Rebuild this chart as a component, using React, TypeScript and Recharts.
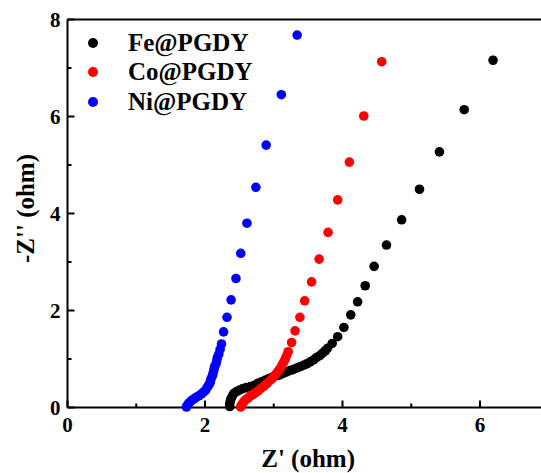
import { ScatterChart, Scatter, XAxis, YAxis, ReferenceLine, Legend } from 'recharts';

// Nyquist points: [Z', -Z'']
const feData = [
  [2.36, 0.02], [2.36, 0.08], [2.37, 0.14], [2.38, 0.19], [2.4, 0.24], [2.42, 0.29],
  [2.46, 0.33], [2.5, 0.36], [2.55, 0.39], [2.6, 0.41], [2.66, 0.43], [2.72, 0.46],
  [2.77, 0.5], [2.82, 0.53], [2.87, 0.56], [2.92, 0.59], [2.97, 0.62], [3.03, 0.65],
  [3.08, 0.67], [3.13, 0.7], [3.18, 0.73], [3.23, 0.76], [3.28, 0.78], [3.33, 0.81],
  [3.38, 0.84], [3.43, 0.87], [3.48, 0.9], [3.53, 0.94], [3.58, 0.98], [3.62, 1.03],
  [3.67, 1.07], [3.71, 1.12], [3.75, 1.17], [3.78, 1.22], [3.85, 1.32], [3.93, 1.46],
  [4.02, 1.65], [4.12, 1.91], [4.22, 2.18], [4.33, 2.51], [4.46, 2.91], [4.64, 3.35],
  [4.86, 3.87], [5.12, 4.5], [5.41, 5.27], [5.77, 6.14], [6.19, 7.16],
];
const coData = [
  [2.52, 0.01], [2.53, 0.05], [2.55, 0.09], [2.57, 0.13], [2.6, 0.17], [2.63, 0.2],
  [2.66, 0.24], [2.7, 0.27], [2.73, 0.3], [2.77, 0.34], [2.81, 0.39], [2.85, 0.43],
  [2.88, 0.47], [2.91, 0.51], [2.95, 0.56], [2.98, 0.6], [3.01, 0.65], [3.03, 0.69],
  [3.06, 0.74], [3.08, 0.78], [3.11, 0.84], [3.13, 0.9], [3.15, 0.95], [3.17, 1.01],
  [3.19, 1.08], [3.21, 1.15], [3.26, 1.34], [3.31, 1.58], [3.38, 1.86], [3.45, 2.2],
  [3.55, 2.59], [3.66, 3.06], [3.79, 3.61], [3.93, 4.28], [4.1, 5.06], [4.31, 6.01],
  [4.57, 7.13],
];
const niData = [
  [1.73, 0.01], [1.74, 0.04], [1.76, 0.08], [1.78, 0.11], [1.81, 0.15], [1.84, 0.18],
  [1.87, 0.21], [1.91, 0.24], [1.95, 0.28], [1.98, 0.32], [2.01, 0.36], [2.03, 0.41],
  [2.05, 0.45], [2.07, 0.5], [2.08, 0.55], [2.09, 0.6], [2.11, 0.66], [2.12, 0.72],
  [2.13, 0.78], [2.14, 0.84], [2.16, 0.9], [2.17, 0.96], [2.18, 1.03], [2.2, 1.1],
  [2.22, 1.2], [2.24, 1.31], [2.27, 1.56], [2.32, 1.86], [2.38, 2.22], [2.45, 2.66],
  [2.52, 3.18], [2.61, 3.8], [2.74, 4.54], [2.89, 5.41], [3.11, 6.45], [3.34, 7.68],
];

const xTicks = [0, 1, 2, 3, 4, 5, 6, 7];
const yTicks = [0, 1, 2, 3, 4, 5, 6, 7, 8];

const series = [
  { name: 'Fe@PGDY', color: '#000000', data: feData },
  { name: 'Co@PGDY', color: '#ff0000', data: coData },
  { name: 'Ni@PGDY', color: '#0000ff', data: niData },
];

const FONT = '"Liberation Serif", "Times New Roman", serif';

const toPoints = (d: number[][]) => d.map(([x, y]) => ({ x, y }));

const XTick = (props: any) => {
  const { x, y, payload } = props;
  const major = payload.value % 2 === 0;
  return (
    <g>
      <line x1={x} x2={x} y1={y} y2={y - (major ? 7 : 4)} stroke="#000" strokeWidth={2} />
      {major && (
        <text x={x} y={y + 17} textAnchor="middle" dominantBaseline="central"
          fontFamily={FONT} fontWeight="bold" fontSize={21} fill="#000">
          {payload.value}
        </text>
      )}
    </g>
  );
};

const YTick = (props: any) => {
  const { x, y, payload } = props;
  const major = payload.value % 2 === 0;
  return (
    <g>
      <line x1={x} x2={x + (major ? 7 : 4)} y1={y} y2={y} stroke="#000" strokeWidth={2} />
      {major && (
        <text x={x - 7} y={y} textAnchor="end" dominantBaseline="central"
          fontFamily={FONT} fontWeight="bold" fontSize={21} fill="#000">
          {payload.value}
        </text>
      )}
    </g>
  );
};

const LegendBox = () => (
  <div style={{ fontFamily: FONT, fontWeight: 'bold', fontSize: 25 }}>
    {series.map((s) => (
      <div key={s.name} style={{ display: 'flex', alignItems: 'center', height: 29.5 }}>
        <svg width={16} height={16} style={{ marginRight: 27 }}>
          <circle cx={8} cy={8} r={5} fill={s.color} />
        </svg>
        <span>{s.name}</span>
      </div>
    ))}
  </div>
);

export default function App() {
  return (
    <div style={{ position: 'absolute', left: 0, top: 0, width: 541, height: 473, overflow: 'hidden', background: '#fff' }}>
      <ScatterChart width={560} height={473} margin={{ top: 19.5, right: 11.25, bottom: 0, left: 0 }}>
        <XAxis
          type="number"
          dataKey="x"
          domain={[0, 7]}
          ticks={xTicks}
          interval={0}
          tickSize={0}
          tickMargin={0}
          tickLine={false}
          tick={<XTick />}
          height={65.5}
          axisLine={{ stroke: '#000', strokeWidth: 2 }}
          label={({ viewBox }: any) => (
            <text x={viewBox.x + viewBox.width / 2} y={viewBox.y + 51} textAnchor="middle" dominantBaseline="central"
              fontFamily={FONT} fontWeight="bold" fontSize={25} fill="#000">
              Z' (ohm)
            </text>
          )}
        />
        <YAxis
          type="number"
          dataKey="y"
          domain={[0, 8]}
          ticks={yTicks}
          interval={0}
          tickSize={0}
          tickMargin={0}
          tickLine={false}
          tick={<YTick />}
          width={67.5}
          axisLine={{ stroke: '#000', strokeWidth: 2 }}
          label={({ viewBox }: any) => {
            const cx = 25.5;
            const cy = viewBox.y + viewBox.height / 2 - 5;
            return (
              <text x={cx} y={cy} transform={`rotate(-90, ${cx}, ${cy})`} textAnchor="middle" dominantBaseline="central"
                fontFamily={FONT} fontWeight="bold" fontSize={25} fill="#000">
                -Z'' (ohm)
              </text>
            );
          }}
        />
        <ReferenceLine y={8} stroke="#000" strokeWidth={2} />
        <ReferenceLine x={7} stroke="#000" strokeWidth={2} />
        <Legend
          layout="vertical"
          align="center"
          verticalAlign="middle"
          wrapperStyle={{ top: 28, left: 85, width: 'auto' }}
          content={<LegendBox />}
        />
        {series.map((s) => (
          <Scatter
            key={s.name}
            name={s.name}
            data={toPoints(s.data)}
            fill={s.color}
            isAnimationActive={false}
            shape={(p: any) => <circle cx={p.cx} cy={p.cy} r={4.8} fill={s.color} />}
          />
        ))}
      </ScatterChart>
    </div>
  );
}
